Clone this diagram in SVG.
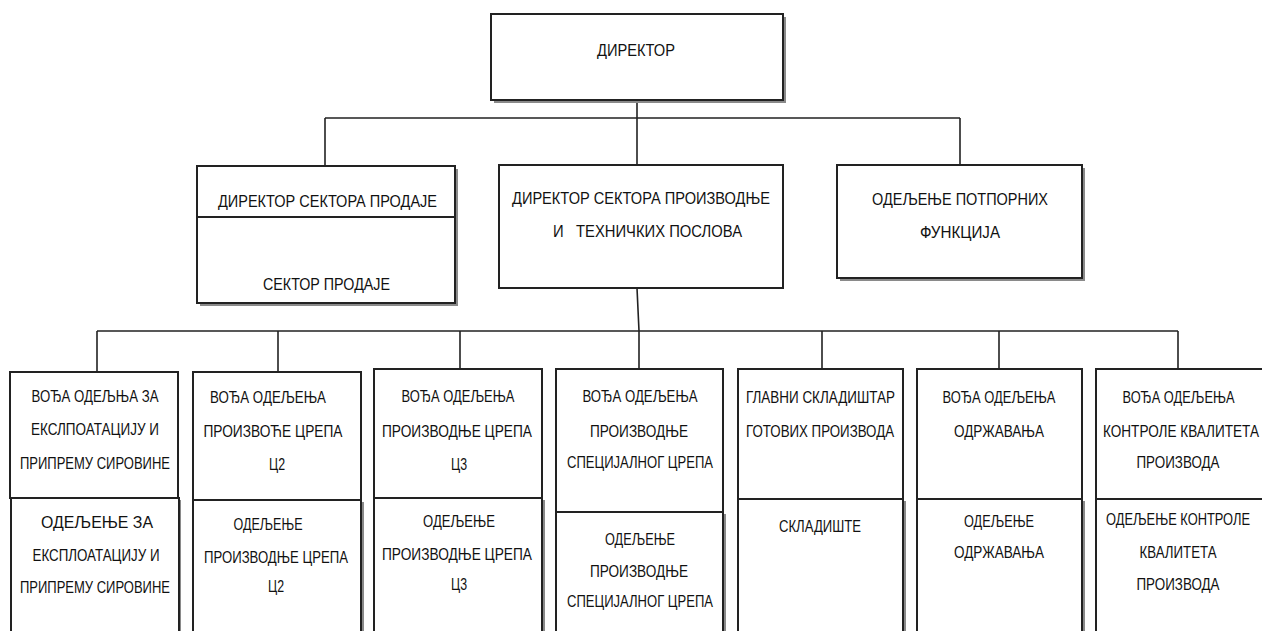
<svg xmlns="http://www.w3.org/2000/svg" width="1262" height="631" viewBox="0 0 1262 631">
<style>
.box{fill:#fff;stroke:#222;stroke-width:2}
.sh{fill:#8a8a8a}
.ln{fill:none;stroke:#222;stroke-width:1.6}
text{font-family:"Liberation Sans","Noto Sans",sans-serif;font-size:17px;fill:#111;text-anchor:middle}
</style>
<rect width="1262" height="631" fill="#fff"/>
<g id="connectors">
<path class="ln" d="M637 100V118M325 118H960M325 118V166M637 118V165M960 118V165M637 288L639 331M97 331H1178M97 331V372M278 331V372M460 331V369M639 331V369M822 331V369M999 331V369M1178 331V369"/>
</g>
<g id="n-director">
<rect class="sh" x="494" y="17" width="292" height="86"/>
<rect class="box" x="491" y="14" width="292" height="86"/>
<text x="636" y="56" textLength="78" lengthAdjust="spacingAndGlyphs">ДИРЕКТОР</text>
</g>
<g id="n-sales">
<rect class="sh" x="200" y="169" width="258" height="137"/>
<rect class="box" x="197" y="166" width="258" height="51"/>
<rect class="box" x="197" y="217" width="258" height="86"/>
<text x="327.5" y="207" textLength="219" lengthAdjust="spacingAndGlyphs">ДИРЕКТОР СЕКТОРА ПРОДАЈЕ</text>
<text x="326.5" y="290" textLength="127" lengthAdjust="spacingAndGlyphs">СЕКТОР ПРОДАЈЕ</text>
</g>
<g id="n-production">
<rect class="box" x="499" y="165" width="284" height="123"/>
<text x="641" y="204" textLength="258" lengthAdjust="spacingAndGlyphs">ДИРЕКТОР СЕКТОРА ПРОИЗВОДЊЕ</text>
<text x="647.5" y="237" textLength="189" lengthAdjust="spacingAndGlyphs" xml:space="preserve">И   ТЕХНИЧКИХ ПОСЛОВА</text>
</g>
<g id="n-support">
<rect class="sh" x="840" y="168" width="245" height="113"/>
<rect class="box" x="837" y="165" width="245" height="113"/>
<text x="960" y="205" textLength="176" lengthAdjust="spacingAndGlyphs">ОДЕЉЕЊЕ ПОТПОРНИХ</text>
<text x="960" y="238" textLength="80" lengthAdjust="spacingAndGlyphs">ФУНКЦИЈА</text>
</g>
<g id="n-b1">
<rect class="sh" x="13" y="500" width="168" height="140"/>
<rect class="box" x="10" y="372" width="168" height="126"/>
<rect class="box" x="11" y="498" width="168" height="140"/>
<text x="95" y="402" textLength="127" lengthAdjust="spacingAndGlyphs">ВОЂА ОДЕЉЊА ЗА</text>
<text x="95" y="435" textLength="128" lengthAdjust="spacingAndGlyphs">ЕКСЛПОАТАЦИЈУ И</text>
<text x="95" y="469" textLength="150" lengthAdjust="spacingAndGlyphs">ПРИПРЕМУ СИРОВИНЕ</text>
<text x="97" y="528" textLength="112" lengthAdjust="spacingAndGlyphs">ОДЕЉЕЊЕ ЗА</text>
<text x="96" y="561" textLength="127" lengthAdjust="spacingAndGlyphs">ЕКСПЛОАТАЦИЈУ И</text>
<text x="95" y="593" textLength="150" lengthAdjust="spacingAndGlyphs">ПРИПРЕМУ СИРОВИНЕ</text>
</g>
<g id="n-b2">
<rect class="sh" x="196" y="502" width="168" height="140"/>
<rect class="box" x="193" y="372" width="168" height="128"/>
<rect class="box" x="193" y="500" width="168" height="140"/>
<text x="268" y="403" textLength="116" lengthAdjust="spacingAndGlyphs">ВОЂА ОДЕЉЕЊА</text>
<text x="273" y="437" textLength="139" lengthAdjust="spacingAndGlyphs">ПРОИЗВОЋЕ ЦРЕПА</text>
<text x="277" y="470" textLength="16" lengthAdjust="spacingAndGlyphs">Ц2</text>
<text x="268" y="530" textLength="69" lengthAdjust="spacingAndGlyphs">ОДЕЉЕЊЕ</text>
<text x="276" y="563" textLength="144" lengthAdjust="spacingAndGlyphs">ПРОИЗВОДЊЕ ЦРЕПА</text>
<text x="276" y="592" textLength="16" lengthAdjust="spacingAndGlyphs">Ц2</text>
</g>
<g id="n-b3">
<rect class="sh" x="377" y="500" width="168" height="140"/>
<rect class="box" x="374" y="369" width="168" height="129"/>
<rect class="box" x="374" y="498" width="168" height="140"/>
<text x="458" y="402" textLength="113" lengthAdjust="spacingAndGlyphs">ВОЂА ОДЕЉЕЊА</text>
<text x="457" y="437" textLength="150" lengthAdjust="spacingAndGlyphs">ПРОИЗВОДЊЕ ЦРЕПА</text>
<text x="459" y="470" textLength="16" lengthAdjust="spacingAndGlyphs">Ц3</text>
<text x="459" y="527" textLength="72" lengthAdjust="spacingAndGlyphs">ОДЕЉЕЊЕ</text>
<text x="457" y="560" textLength="150" lengthAdjust="spacingAndGlyphs">ПРОИЗВОДЊЕ ЦРЕПА</text>
<text x="459" y="590" textLength="16" lengthAdjust="spacingAndGlyphs">Ц3</text>
</g>
<g id="n-b4">
<rect class="sh" x="559" y="514" width="167" height="130"/>
<rect class="box" x="556" y="369" width="167" height="143"/>
<rect class="box" x="556" y="512" width="167" height="130"/>
<text x="640" y="402" textLength="115" lengthAdjust="spacingAndGlyphs">ВОЂА ОДЕЉЕЊА</text>
<text x="639" y="437" textLength="98" lengthAdjust="spacingAndGlyphs">ПРОИЗВОДЊЕ</text>
<text x="640" y="468" textLength="146" lengthAdjust="spacingAndGlyphs">СПЕЦИЈАЛНОГ ЦРЕПА</text>
<text x="640" y="545" textLength="70" lengthAdjust="spacingAndGlyphs">ОДЕЉЕЊЕ</text>
<text x="639" y="577" textLength="98" lengthAdjust="spacingAndGlyphs">ПРОИЗВОДЊЕ</text>
<text x="640" y="607" textLength="146" lengthAdjust="spacingAndGlyphs">СПЕЦИЈАЛНОГ ЦРЕПА</text>
</g>
<g id="n-b5">
<rect class="sh" x="741" y="501" width="165" height="140"/>
<rect class="box" x="738" y="369" width="165" height="130"/>
<rect class="box" x="738" y="499" width="165" height="140"/>
<text x="820.5" y="403" textLength="149" lengthAdjust="spacingAndGlyphs">ГЛАВНИ СКЛАДИШТАР</text>
<text x="820" y="437" textLength="148" lengthAdjust="spacingAndGlyphs">ГОТОВИХ ПРОИЗВОДА</text>
<text x="820" y="532" textLength="82" lengthAdjust="spacingAndGlyphs">СКЛАДИШТЕ</text>
</g>
<g id="n-b6">
<rect class="sh" x="920" y="501" width="165" height="140"/>
<rect class="box" x="917" y="369" width="165" height="130"/>
<rect class="box" x="917" y="499" width="165" height="140"/>
<text x="999" y="403" textLength="113" lengthAdjust="spacingAndGlyphs">ВОЂА ОДЕЉЕЊА</text>
<text x="999" y="437" textLength="90" lengthAdjust="spacingAndGlyphs">ОДРЖАВАЊА</text>
<text x="999" y="527" textLength="70" lengthAdjust="spacingAndGlyphs">ОДЕЉЕЊЕ</text>
<text x="999" y="558" textLength="90" lengthAdjust="spacingAndGlyphs">ОДРЖАВАЊА</text>
</g>
<g id="n-b7">
<rect class="box" x="1096" y="369" width="168" height="130"/>
<rect class="box" x="1096" y="499" width="168" height="140"/>
<text x="1178.5" y="403" textLength="112" lengthAdjust="spacingAndGlyphs">ВОЂА ОДЕЉЕЊА</text>
<text x="1103" y="437" textLength="156" lengthAdjust="spacingAndGlyphs" style="text-anchor:start">КОНТРОЛЕ КВАЛИТЕТА</text>
<text x="1178" y="468" textLength="83" lengthAdjust="spacingAndGlyphs">ПРОИЗВОДА</text>
<text x="1178" y="525" textLength="144" lengthAdjust="spacingAndGlyphs">ОДЕЉЕЊЕ КОНТРОЛЕ</text>
<text x="1178" y="558" textLength="77" lengthAdjust="spacingAndGlyphs">КВАЛИТЕТА</text>
<text x="1178" y="590" textLength="83" lengthAdjust="spacingAndGlyphs">ПРОИЗВОДА</text>
</g>
</svg>
